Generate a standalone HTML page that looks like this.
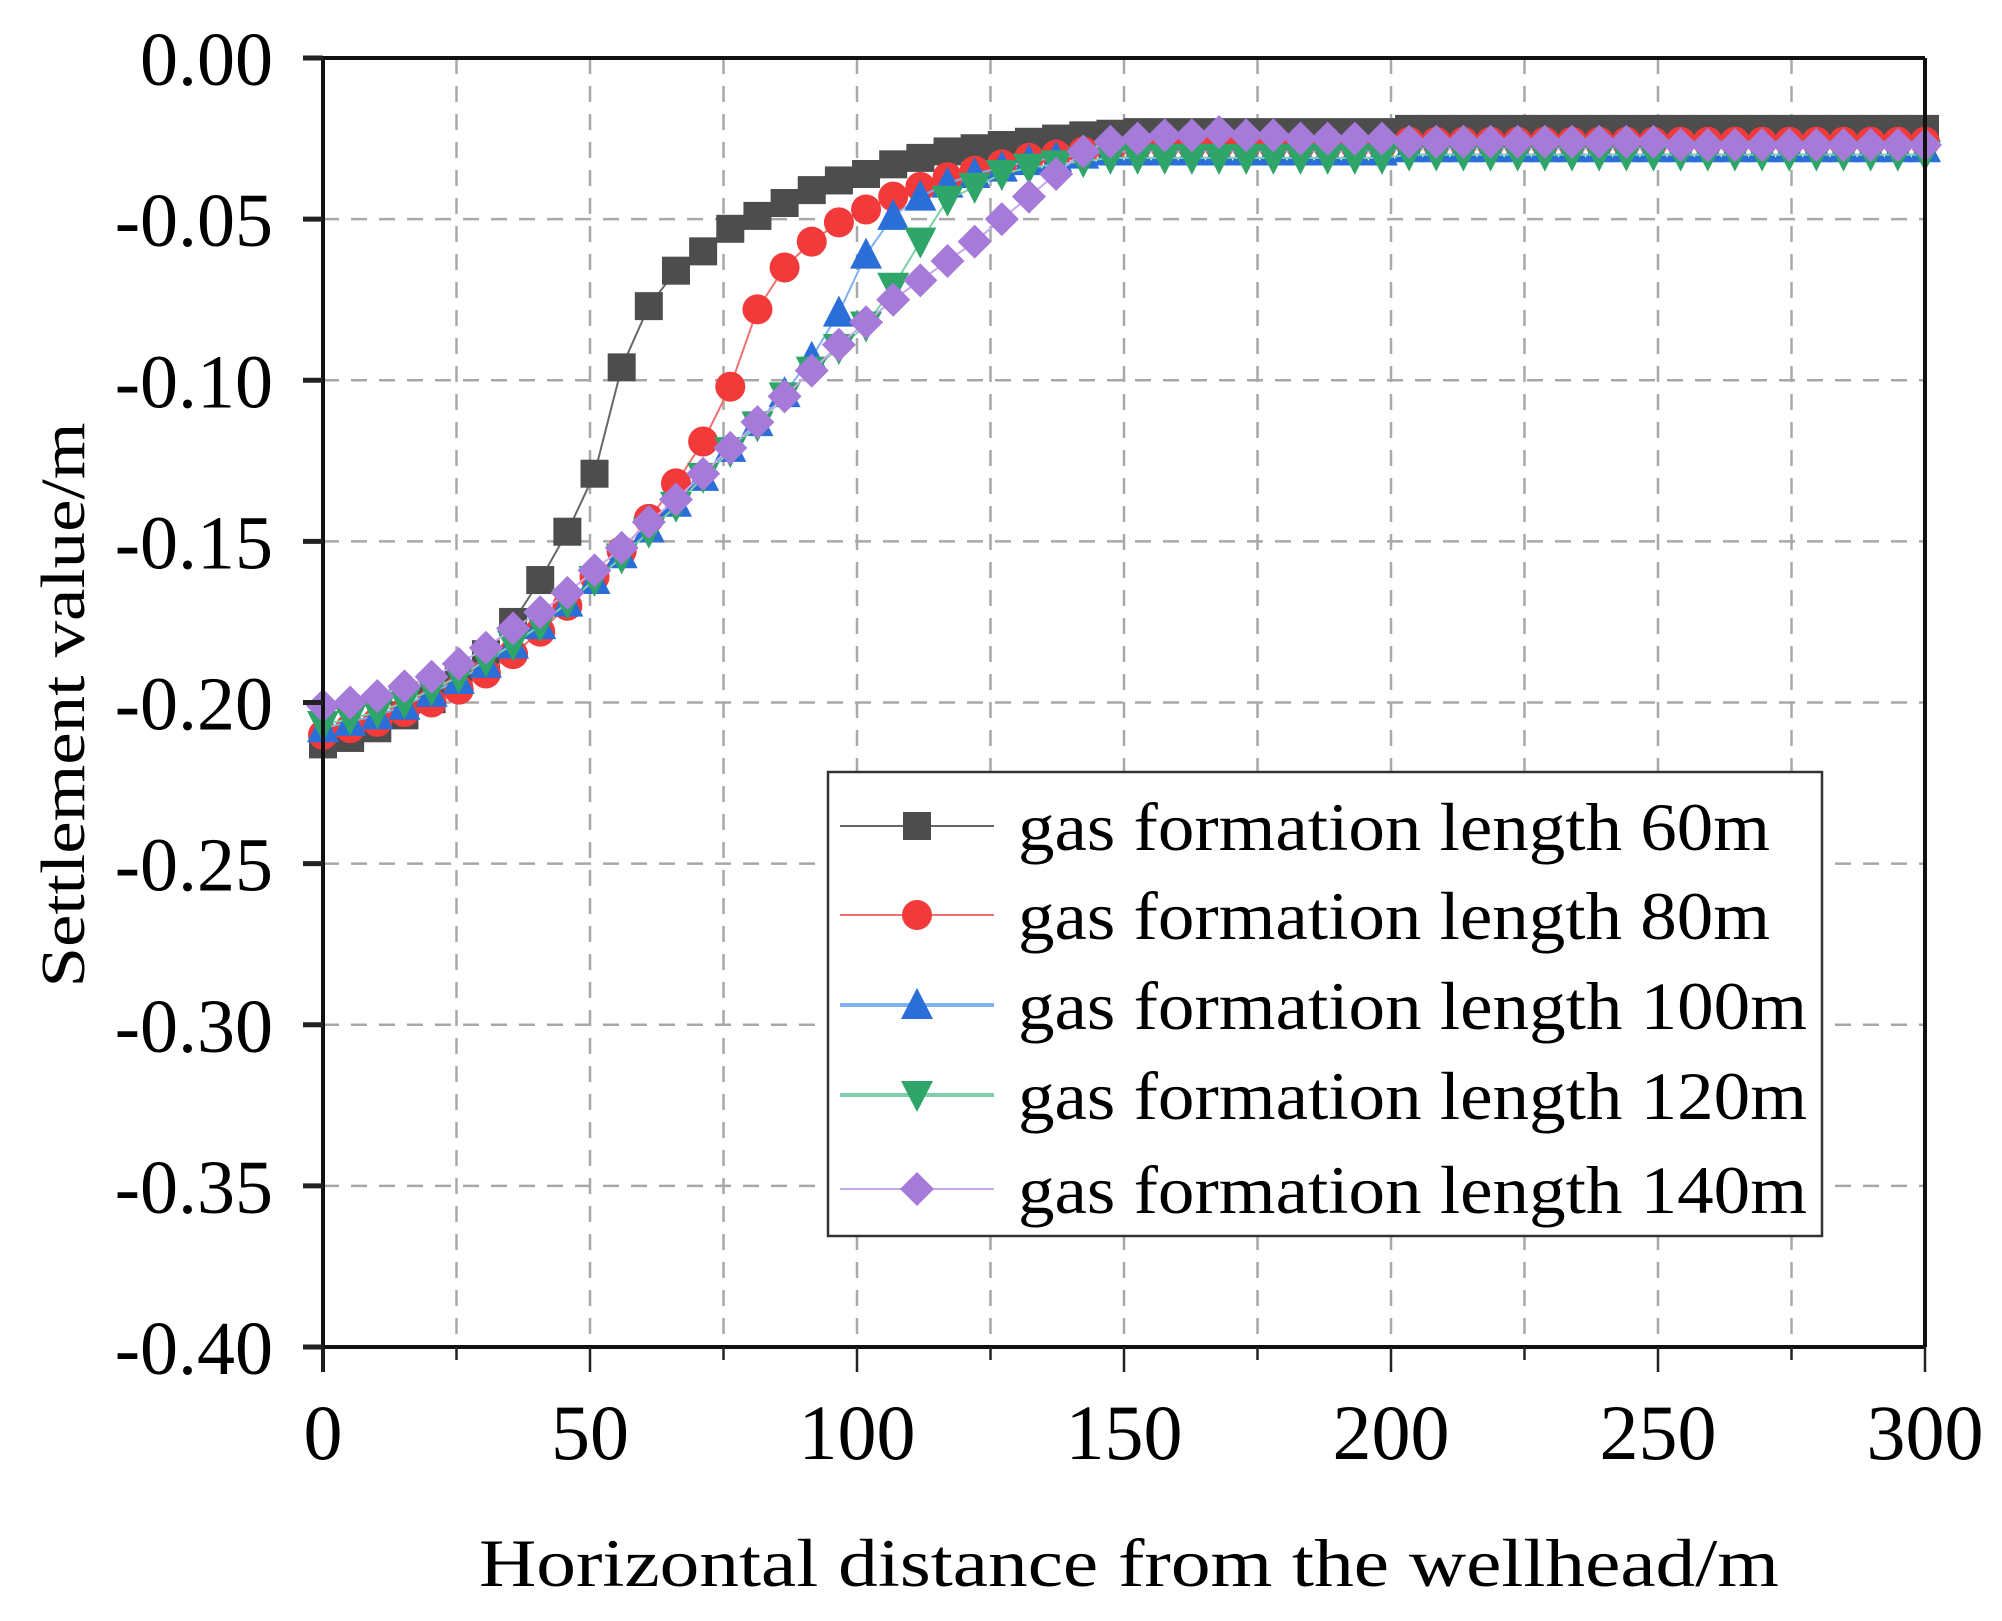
<!DOCTYPE html>
<html><head><meta charset="utf-8"><style>
html,body{margin:0;padding:0;background:#fff;}
svg{display:block;font-family:"Liberation Serif",serif;}
</style></head><body>
<svg id="chart" width="2002" height="1621" viewBox="0 0 2002 1621" xmlns="http://www.w3.org/2000/svg">
<g id="grid"></g>
<g id="series"></g>
<g id="axes"></g>
<g id="legend"></g>
<text x="0" y="0" transform="translate(84,705) rotate(-90)" text-anchor="middle" font-size="62" textLength="565" lengthAdjust="spacingAndGlyphs">Settlement value/m</text>
<text x="1129" y="1586" text-anchor="middle" font-size="68" textLength="1300" lengthAdjust="spacingAndGlyphs">Horizontal distance from the wellhead/m</text>
</svg>
<script>
const xTicks = [0,50,100,150,200,250,300];
const yTicks = [0,-0.05,-0.10,-0.15,-0.20,-0.25,-0.30,-0.35,-0.40];
const yTickLabels = ["0.00","-0.05","-0.10","-0.15","-0.20","-0.25","-0.30","-0.35","-0.40"];
const seriesNames = ["gas formation length 60m","gas formation length 80m","gas formation length 100m","gas formation length 120m","gas formation length 140m"];
const xMax = 300;
const s60 = [-0.213,-0.211,-0.208,-0.204,-0.199,-0.192,-0.185,-0.175,-0.162,-0.147,-0.129,-0.096,-0.077,-0.066,-0.060,-0.053,-0.049,-0.045,-0.041,-0.038,-0.036,-0.033,-0.031,-0.029,-0.028,-0.027,-0.026,-0.025,-0.024,-0.0235,
-0.023,-0.023,-0.023,-0.023,-0.023,-0.023,-0.023,-0.023,-0.023,-0.023,
-0.022,-0.022,-0.022,-0.022,-0.022,-0.022,-0.022,-0.022,-0.022,-0.022,-0.022,-0.022,-0.022,-0.022,-0.022,-0.022,-0.022,-0.022,-0.022,-0.022];
const s80 = [-0.210,-0.208,-0.206,-0.203,-0.200,-0.196,-0.191,-0.185,-0.178,-0.170,-0.161,-0.153,-0.143,-0.132,-0.119,-0.102,-0.078,-0.065,-0.057,-0.051,-0.047,-0.043,-0.040,-0.037,-0.035,-0.033,-0.031,-0.030,-0.029,-0.028,
-0.027,-0.027,-0.027,-0.027,-0.027,-0.027,-0.027,-0.027,-0.027,-0.027,
-0.026,-0.026,-0.026,-0.026,-0.026,-0.026,-0.026,-0.026,-0.026,-0.026,-0.026,-0.026,-0.026,-0.026,-0.026,-0.026,-0.026,-0.026,-0.026,-0.026];
const s100 = [-0.208,-0.206,-0.204,-0.201,-0.197,-0.193,-0.188,-0.182,-0.176,-0.169,-0.162,-0.154,-0.146,-0.138,-0.130,-0.121,-0.113,-0.104,-0.093,-0.079,-0.061,-0.049,-0.043,-0.039,-0.036,-0.034,-0.032,-0.031,-0.030,-0.029,
-0.029,-0.029,-0.029,-0.029,-0.029,-0.029,-0.029,-0.029,-0.029,-0.029,
-0.028,-0.028,-0.028,-0.028,-0.028,-0.028,-0.028,-0.028,-0.028,-0.028,-0.028,-0.028,-0.028,-0.028,-0.028,-0.028,-0.028,-0.028,-0.028,-0.028];
const s120 = [-0.207,-0.205,-0.203,-0.200,-0.196,-0.192,-0.187,-0.182,-0.176,-0.169,-0.162,-0.155,-0.147,-0.139,-0.130,-0.122,-0.114,-0.105,-0.097,-0.090,-0.083,-0.071,-0.057,-0.044,-0.040,-0.036,-0.034,-0.033,-0.032,-0.031,
-0.031,-0.031,-0.031,-0.031,-0.031,-0.031,-0.031,-0.031,-0.031,-0.031,
-0.030,-0.030,-0.030,-0.030,-0.030,-0.030,-0.030,-0.030,-0.030,-0.030,-0.030,-0.030,-0.030,-0.030,-0.030,-0.030,-0.030,-0.030,-0.030,-0.030];
const s140 = [-0.201,-0.200,-0.198,-0.195,-0.192,-0.188,-0.183,-0.177,-0.172,-0.166,-0.159,-0.152,-0.144,-0.137,-0.129,-0.121,-0.113,-0.105,-0.097,-0.089,-0.082,-0.075,-0.069,-0.063,-0.057,-0.050,-0.043,-0.036,-0.029,-0.026,
-0.025,-0.024,-0.024,-0.023,-0.024,-0.024,-0.025,-0.025,-0.025,-0.025,
-0.026,-0.026,-0.026,-0.026,-0.026,-0.026,-0.026,-0.026,-0.026,-0.026,
-0.027,-0.027,-0.027,-0.027,-0.027,-0.027,-0.027,-0.027,-0.027,-0.027];

const NS = "http://www.w3.org/2000/svg";
const L = 323, R = 1925, T = 58, B = 1347;
const X = v => L + (v - 0) / 300 * (R - L);
const Y = v => T + (0 - v) / 0.40 * (B - T);
function mk(tag, attrs, parent) {
  const e = document.createElementNS(NS, tag);
  for (const k in attrs) e.setAttribute(k, attrs[k]);
  parent.appendChild(e);
  return e;
}
const grid = document.getElementById('grid');
const axes = document.getElementById('axes');
const seriesG = document.getElementById('series');
const legend = document.getElementById('legend');

for (let v = 25; v < 300; v += 25) {
  const g = mk('line', {x1: X(v), x2: X(v), y1: T, y2: B, stroke: '#a8a8a8', 'stroke-width': 2.5, 'stroke-dasharray': '16 12'}, grid);
  
  
}
for (let i = 1; i < yTicks.length - 1; i++) {
  const g = mk('line', {x1: L, x2: R, y1: Y(yTicks[i]), y2: Y(yTicks[i]), stroke: '#a8a8a8', 'stroke-width': 2.5, 'stroke-dasharray': '16 12'}, grid);
  
  
}

const allSeries = [s60, s80, s100, s120, s140];
const colors = ['#4d4d4d', '#f23a3a', '#2a6fd8', '#2fa56a', '#a67ad8'];
const lineColors = ['#666', '#f07070', '#7fb0ef', '#7fd0a8', '#c8a8ec'];
const shapes = ['square', 'circle', 'up', 'down', 'diamond'];
function marker(shape, cx, cy, color, parent) {
  const s = 14;
  let e;
  if (shape === 'square') e = mk('rect', {x: cx - s, y: cy - s, width: 2 * s, height: 2 * s, fill: color}, parent);
  else if (shape === 'circle') e = mk('circle', {cx: cx, cy: cy, r: s + 1, fill: color}, parent);
  else if (shape === 'up') e = mk('polygon', {points: `${cx},${cy - s - 3} ${cx + s + 2},${cy + s} ${cx - s - 2},${cy + s}`, fill: color}, parent);
  else if (shape === 'down') e = mk('polygon', {points: `${cx},${cy + s + 3} ${cx + s + 2},${cy - s} ${cx - s - 2},${cy - s}`, fill: color}, parent);
  else e = mk('polygon', {points: `${cx},${cy - s - 3} ${cx + s + 3},${cy} ${cx},${cy + s + 3} ${cx - s - 3},${cy}`, fill: color}, parent);
  return e;
}
allSeries.forEach((arr, si) => {
  const step = xMax / (arr.length - 1);
  const g = mk('g', {}, seriesG);
  
  
  const pts = arr.map((v, i) => X(i * step) + ',' + Y(v)).join(' ');
  const pl = mk('polyline', {points: pts, fill: 'none', stroke: lineColors[si], 'stroke-width': 2}, g);
  
  
  arr.forEach((v, i) => {
    const m = marker(shapes[si], X(i * step), Y(v), colors[si], g);
    
    
  });
});

const frame = [
  [L - 20, T, R, T], [R, T, R, B], [L - 20, B, R, B], [L, T, L, B + 25]
];
frame.forEach(f => {
  const a = mk('line', {x1: f[0], y1: f[1], x2: f[2], y2: f[3], stroke: '#111', 'stroke-width': 4}, axes);
  
  
});
yTicks.forEach((v, i) => {
  const t = mk('line', {x1: L - 20, x2: L, y1: Y(v), y2: Y(v), stroke: '#222', 'stroke-width': 5}, axes);
  
  
  const lb = mk('text', {x: 273, y: Y(v) + 27, 'text-anchor': 'end', 'font-size': 76}, axes);
  lb.textContent = yTickLabels[i];
  
  
});
for (let v = 0; v <= 300; v += 25) {
  const major = v % 50 === 0;
  const t = mk('line', {x1: X(v), x2: X(v), y1: B, y2: B + (major ? 25 : 13), stroke: '#222', 'stroke-width': 2.5}, axes);
  
  
}
xTicks.forEach(v => {
  const lb = mk('text', {x: X(v), y: 1459, 'text-anchor': 'middle', 'font-size': 78}, axes);
  lb.textContent = String(v);
  
  
});

const box = mk('rect', {x: 828, y: 772, width: 994, height: 464, fill: '#fff', stroke: '#333', 'stroke-width': 2.5}, legend);


const legY = [826, 915, 1005, 1095, 1189];
seriesNames.forEach((name, si) => {
  const g = mk('g', {}, legend);
  
  
  const ln = mk('line', {x1: 840, x2: 994, y1: legY[si], y2: legY[si], stroke: lineColors[si], 'stroke-width': si === 2 || si === 3 ? 4 : 2}, g);
  
  
  const m = marker(shapes[si], 917, legY[si], colors[si], g);
  
  
  const tx = mk('text', {x: 1018, y: legY[si] + 24, 'font-size': 68, textLength: (si < 2 ? 752 : 789), lengthAdjust: 'spacingAndGlyphs'}, g);
  tx.textContent = name;
  
  
});
</script>
</body></html>
